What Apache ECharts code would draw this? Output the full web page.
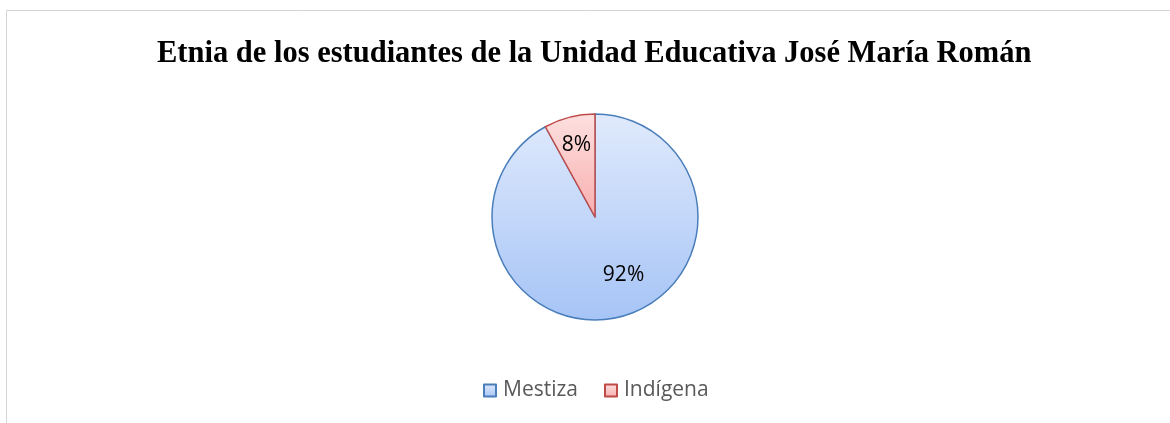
<!DOCTYPE html>
<html>
<head>
<meta charset="utf-8">
<script src="https://cdn.jsdelivr.net/npm/echarts@6/dist/echarts.min.js"></script>
<style>
    html, body { margin: 0; padding: 0; background: #fff; }
    #chart { width: 1170px; height: 423px; }
</style>
</head>
<body>
<div id="chart"></div>
<script>
var categories = ['Mestiza', 'Indígena'];
var values = [92, 8];
var chartTitle = 'Etnia de los estudiantes de la Unidad Educativa José María Román';

// colores estilo Excel (degradado + borde)
var fills = [
    ['#e0eafc', '#a6c4f6'],
    ['#fde0e0', '#f8aeae']
];
var borders = ['#4a7ebb', '#be4b48'];
// ajuste de etiquetas
var labelShift = [[15, 5], [-5, -19]];

var chart = echarts.init(document.getElementById('chart'));

var pieData = categories.map(function (name, i) {
    return {
        name: name,
        value: values[i],
        itemStyle: {
            color: new echarts.graphic.LinearGradient(0, 0, 0, 1, [
                { offset: 0, color: fills[i][0] },
                { offset: 1, color: fills[i][1] }
            ]),
            borderColor: borders[i],
            borderWidth: 1.5
        }
    };
});

var option = {
    backgroundColor: '#fff',
    animation: false,
    title: {
        text: chartTitle,
        left: 152,
        top: 34,
        textStyle: {
            fontFamily: 'Liberation Serif',
            fontWeight: 'bold',
            fontSize: 30.5,
            color: '#000'
        }
    },
    legend: {
        bottom: 17,
        left: 478,
        itemWidth: 12,
        itemHeight: 12,
        itemGap: 26,
        icon: 'rect',
        data: categories,
        textStyle: {
            fontFamily: 'Open Sans',
            fontSize: 21,
            color: '#595959',
            padding: [0, 0, 0, 2]
        }
    },
    graphic: [{
        type: 'rect',
        shape: { x: 6.5, y: 10.5, width: 1200, height: 430 },
        style: { fill: null, stroke: '#d4d4d4', lineWidth: 1 },
        silent: true
    }],
    series: [{
        type: 'pie',
        center: [595, 217],
        radius: 103,
        startAngle: 90,
        clockwise: true,
        data: pieData,
        label: {
            show: true,
            position: 'inside',
            formatter: '{d}%',
            fontFamily: 'Open Sans',
            fontSize: 21,
            color: '#000'
        },
        labelLayout: function (params) {
            var s = labelShift[params.dataIndex];
            return { dx: s[0], dy: s[1] };
        },
        labelLine: { show: false },
        emphasis: { disabled: true }
    }]
};

chart.setOption(option);
</script>
</body>
</html>
